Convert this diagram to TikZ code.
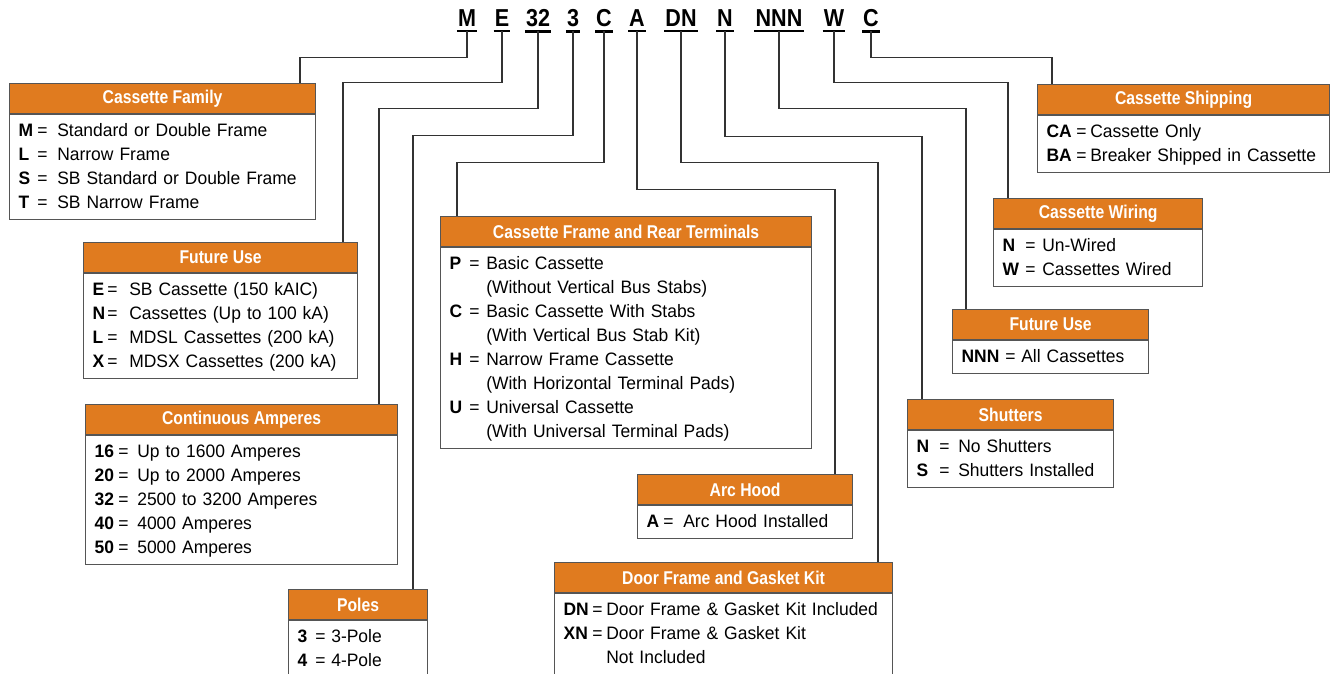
\documentclass[tikz,border=0pt]{standalone}
\usepackage{fontspec}
\setmainfont[FakeStretch=0.97]{Liberation Sans}
\newfontfamily\headfont[FakeStretch=0.85]{Liberation Sans}
\newfontfamily\codefont[FakeStretch=0.88]{Liberation Sans}
\usetikzlibrary{positioning}
\definecolor{hdorange}{RGB}{224,123,31}
\definecolor{boxline}{RGB}{85,85,85}
\definecolor{linkgray}{RGB}{50,50,50}

\begin{document}
\begin{tikzpicture}[x=1pt, y=-1pt,
  code/.style={font=\codefont\bfseries\fontsize{24.5}{25}\selectfont, inner xsep=1pt, inner ysep=5pt, anchor=base},
  uline/.style={line width=2.3pt},
  link/.style={draw=linkgray, line width=1.1pt},
  head/.style={draw=boxline, line width=1.2pt, fill=hdorange, text=white, font=\headfont\bfseries\fontsize{18.5}{20}\selectfont, minimum height=30pt, inner sep=0pt, anchor=north west},
  body/.style={draw=boxline, line width=1.2pt, fill=white, font=\fontsize{18}{24}\selectfont, inner xsep=9pt, inner ysep=4.5pt, align=left, anchor=north west}]
  \useasboundingbox (0,0) rectangle (1336,673);
  \clip (0,0) rectangle (1336,673);
  % catalogue number
  \node[code] (cM) at (467,26) {M};
  \node[code] (cE) at (502,26) {E};
  \node[code] (cAmp) at (538,26) {32};
  \node[code] (cPol) at (573,26) {3};
  \node[code] (cFrm) at (604,26) {C};
  \node[code] (cArc) at (637,26) {A};
  \node[code] (cDor) at (681,26) {DN};
  \node[code] (cShu) at (725,26) {N};
  \node[code] (cFuR) at (779,26) {NNN};
  \node[code] (cWir) at (834,26) {W};
  \node[code] (cShp) at (871,26) {C};
  \draw[uline] (cM.south west) -- (cM.south east);
  \draw[uline] (cE.south west) -- (cE.south east);
  \draw[uline] (cAmp.south west) -- (cAmp.south east);
  \draw[uline] (cPol.south west) -- (cPol.south east);
  \draw[uline] (cFrm.south west) -- (cFrm.south east);
  \draw[uline] (cArc.south west) -- (cArc.south east);
  \draw[uline] (cDor.south west) -- (cDor.south east);
  \draw[uline] (cShu.south west) -- (cShu.south east);
  \draw[uline] (cFuR.south west) -- (cFuR.south east);
  \draw[uline] (cWir.south west) -- (cWir.south east);
  \draw[uline] (cShp.south west) -- (cShp.south east);
  % where the leaders land on the boxes
  \coordinate (famIn) at (300,83);
  \coordinate (fuLIn) at (343,242);
  \coordinate (ampIn) at (379,404);
  \coordinate (polIn) at (413,589);
  \coordinate (frmIn) at (457,216);
  \coordinate (arcIn) at (835,474);
  \coordinate (dorIn) at (878,562);
  \coordinate (shuIn) at (922,399);
  \coordinate (fuRIn) at (966,309);
  \coordinate (wirIn) at (1008,198);
  \coordinate (shpIn) at (1052,84);
  \draw[link] (cM.south) -- ++(0,26) -| (famIn);
  \draw[link] (cE.south) -- ++(0,51) -| (fuLIn);
  \draw[link] (cAmp.south) -- ++(0,77) -| (ampIn);
  \draw[link] (cPol.south) -- ++(0,104) -| (polIn);
  \draw[link] (cFrm.south) -- ++(0,131) -| (frmIn);
  \draw[link] (cArc.south) -- ++(0,158) -| (arcIn);
  \draw[link] (cDor.south) -- ++(0,131) -| (dorIn);
  \draw[link] (cShu.south) -- ++(0,105) -| (shuIn);
  \draw[link] (cFuR.south) -- ++(0,77) -| (fuRIn);
  \draw[link] (cWir.south) -- ++(0,51) -| (wirIn);
  \draw[link] (cShp.south) -- ++(0,26) -| (shpIn);
  % boxes, left side
  \node[head, minimum width=306pt] (famH) at (9,83) {Cassette Family};
  \node[body, text width=288pt] (famB) at (famH.south west) {\begin{tabular}{@{}p{18.75pt}@{}c@{\hspace{9.75pt}}l@{}}
    \textbf{M} & = & Standard or Double Frame\\
    \textbf{L} & = & Narrow Frame\\
    \textbf{S} & = & SB Standard or Double Frame\\
    \textbf{T} & = & SB Narrow Frame
  \end{tabular}};
  \node[head, minimum width=274pt] (fuLH) at (83,242) {Future Use};
  \node[body, text width=256pt] (fuLB) at (fuLH.south west) {\begin{tabular}{@{}p{14.75pt}@{}c@{\hspace{11.75pt}}l@{}}
    \textbf{E} & = & SB Cassette (150 kAIC)\\
    \textbf{N} & = & Cassettes (Up to 100 kA)\\
    \textbf{L} & = & MDSL Cassettes (200 kA)\\
    \textbf{X} & = & MDSX Cassettes (200 kA)
  \end{tabular}};
  \node[head, minimum width=312pt] (ampH) at (85,404) {Continuous Amperes};
  \node[body, text width=294pt] (ampB) at (ampH.south west) {\begin{tabular}{@{}p{23.75pt}@{}c@{\hspace{8.75pt}}l@{}}
    \textbf{16} & = & Up to 1600 Amperes\\
    \textbf{20} & = & Up to 2000 Amperes\\
    \textbf{32} & = & 2500 to 3200 Amperes\\
    \textbf{40} & = & 4000 Amperes\\
    \textbf{50} & = & 5000 Amperes
  \end{tabular}};
  \node[head, minimum width=139pt] (polH) at (288,589) {Poles};
  \node[body, text width=121pt] (polB) at (polH.south west) {\begin{tabular}{@{}p{17.75pt}@{}c@{\hspace{5.75pt}}l@{}}
    \textbf{3} & = & 3-Pole\\
    \textbf{4} & = & 4-Pole
  \end{tabular}};
  % boxes, middle
  \node[head, minimum width=371pt] (frmH) at (440,216) {Cassette Frame and Rear Terminals};
  \node[body, text width=353pt] (frmB) at (frmH.south west) {\begin{tabular}{@{}p{19.75pt}@{}c@{\hspace{6.75pt}}l@{}}
    \textbf{P} & = & Basic Cassette\\
     & & (Without Vertical Bus Stabs)\\
    \textbf{C} & = & Basic Cassette With Stabs\\
     & & (With Vertical Bus Stab Kit)\\
    \textbf{H} & = & Narrow Frame Cassette\\
     & & (With Horizontal Terminal Pads)\\
    \textbf{U} & = & Universal Cassette\\
     & & (With Universal Terminal Pads)
  \end{tabular}};
  \node[head, minimum width=215pt] (arcH) at (637,474) {Arc Hood};
  \node[body, text width=197pt] (arcB) at (arcH.south west) {\begin{tabular}{@{}p{16.75pt}@{}c@{\hspace{9.75pt}}l@{}}
    \textbf{A} & = & Arc Hood Installed
  \end{tabular}};
  \node[head, minimum width=338pt] (dorH) at (554,562) {Door Frame and Gasket Kit};
  \node[body, text width=320pt] (dorB) at (dorH.south west) {\begin{tabular}{@{}p{28.75pt}@{}c@{\hspace{3.75pt}}l@{}}
    \textbf{DN} & = & Door Frame \& Gasket Kit Included\\
    \textbf{XN} & = & Door Frame \& Gasket Kit\\
     & & Not Included
  \end{tabular}};
  % boxes, right side
  \node[head, minimum width=206pt] (shuH) at (907,399) {Shutters};
  \node[body, text width=188pt] (shuB) at (shuH.south west) {\begin{tabular}{@{}p{22.75pt}@{}c@{\hspace{8.75pt}}l@{}}
    \textbf{N} & = & No Shutters\\
    \textbf{S} & = & Shutters Installed
  \end{tabular}};
  \node[head, minimum width=196pt] (fuRH) at (952,309) {Future Use};
  \node[body, text width=178pt] (fuRB) at (fuRH.south west) {\begin{tabular}{@{}p{43.75pt}@{}c@{\hspace{5.75pt}}l@{}}
    \textbf{NNN} & = & All Cassettes
  \end{tabular}};
  \node[head, minimum width=209pt] (wirH) at (993,198) {Cassette Wiring};
  \node[body, text width=191pt] (wirB) at (wirH.south west) {\begin{tabular}{@{}p{22.75pt}@{}c@{\hspace{6.75pt}}l@{}}
    \textbf{N} & = & Un-Wired\\
    \textbf{W} & = & Cassettes Wired
  \end{tabular}};
  \node[head, minimum width=292pt] (shpH) at (1037,84) {Cassette Shipping};
  \node[body, text width=274pt] (shpB) at (shpH.south west) {\begin{tabular}{@{}p{29.75pt}@{}c@{\hspace{3.75pt}}l@{}}
    \textbf{CA} & = & Cassette Only\\
    \textbf{BA} & = & Breaker Shipped in Cassette
  \end{tabular}};
\end{tikzpicture}
\end{document}
